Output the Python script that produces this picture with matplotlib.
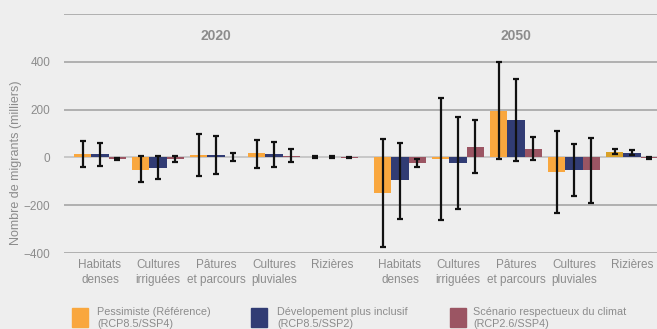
import numpy as np
import matplotlib.pyplot as plt

years = ['2020', '2050']
categories = ['Habitats\ndenses', 'Cultures\nirriguées', 'Pâtures\net parcours',
              'Cultures\npluviales', 'Rizières']
scenarios = ['Pessimiste (Référence)\n(RCP8.5/SSP4)',
             'Dévelopement plus inclusif\n(RCP8.5/SSP2)',
             'Scénario respectueux du climat\n(RCP2.6/SSP4)']

# migrants (thousands): 2020 categories then 2050 categories
pessimiste = [14, -52, 10, 18, 1, -151, -8, 195, -63, 24]
inclusif = [14, -43, 10, 14, 1, -96, -25, 158, -54, 20]
climat = [-6, -6, 2, 6, -1, -25, 45, 36, -54, -2]

# error bar bounds (low, high)
pessimiste_lo = [-40, -103, -77, -43, -3, -375, -261, -8, -232, 13]
pessimiste_hi = [70, 6, 99, 74, 5, 78, 247, 399, 109, 35]
inclusif_lo = [-35, -92, -68, -39, -3, -257, -215, -13, -163, 10]
inclusif_hi = [61, 6, 89, 64, 5, 61, 167, 330, 56, 31]
climat_lo = [-10, -20, -17, -20, -4, -42, -64, -10, -190, -5]
climat_hi = [-3, 7, 20, 35, 2, -7, 158, 87, 81, 0]

colors = ['#f9a73e', '#313c74', '#9b5563']
rizieres_2050_color = '#d9a128'
text_grey = '#8c8c8c'
bg = '#eeeeee'

plt.rcParams['font.family'] = ['Liberation Sans', 'DejaVu Sans']

fig = plt.figure(figsize=(6.57, 3.29), dpi=100, facecolor=bg)
ax = fig.add_axes([64 / 657, 1 - 253 / 329, 1 - 64 / 657, (253 - 14) / 329])
ax.set_facecolor(bg)

n = len(categories)
gap = 0.17
x = np.concatenate([np.arange(n), np.arange(n) + n + gap])
width = 0.30

series = [(pessimiste, pessimiste_lo, pessimiste_hi),
          (inclusif, inclusif_lo, inclusif_hi),
          (climat, climat_lo, climat_hi)]

for gy in [-400, -200, 200, 400, 600]:
    ax.axhline(gy, color='#ababab', lw=1.3, zorder=0)
ax.axhline(0, color='#c4c4c4', lw=1.3, zorder=0)

for i, (vals, lo, hi) in enumerate(series):
    vals = np.array(vals)
    pos = x + (i - 1) * width
    col = [colors[i]] * len(vals)
    if i == 0:
        col[-1] = rizieres_2050_color
    ax.bar(pos, vals, width, color=col, zorder=2, label=scenarios[i])
    yerr = [vals - np.array(lo), np.array(hi) - vals]
    ax.errorbar(pos, vals, yerr=yerr, fmt='none', ecolor='#111111',
                elinewidth=1.6, capsize=2.5, capthick=1.6, zorder=3)

for k, yr in enumerate(years):
    ax.text(x[k * n + 2], 507, yr, ha='center', va='center',
            fontsize=10, fontweight='bold', color=text_grey)

ax.set_xlim(-0.62, 9.6)
ax.set_ylim(-400, 600)
ax.set_yticks([-400, -200, 0, 200, 400])
ax.set_yticklabels(['−400', '−200', '0', '200', '400'])
ax.set_xticks(x)
ax.set_xticklabels(categories * 2, linespacing=1.35)
ax.tick_params(axis='both', length=0, labelsize=8.5, colors=text_grey)
ax.tick_params(axis='y', pad=10)
ax.tick_params(axis='x', pad=4)
for s in ax.spines.values():
    s.set_visible(False)

fig.text(16 / 657, 1 - 163 / 329, 'Nombre de migrants (milliers)', rotation=90,
         ha='center', va='center', fontsize=9, color=text_grey)

# legend: colour squares with two-line labels
for i, (sx, tx) in enumerate([(72, 97), (251, 277), (450, 473)]):
    fig.patches.append(plt.Rectangle((sx / 657, 1 - 327 / 329), 16 / 657, 19 / 329,
                                     transform=fig.transFigure, color=colors[i]))
    fig.text(tx / 657, 1 - 318 / 329, scenarios[i], ha='left', va='center',
             fontsize=7.8, color=text_grey, linespacing=1.35)

fig.savefig('out.png', dpi=100, facecolor=bg)
